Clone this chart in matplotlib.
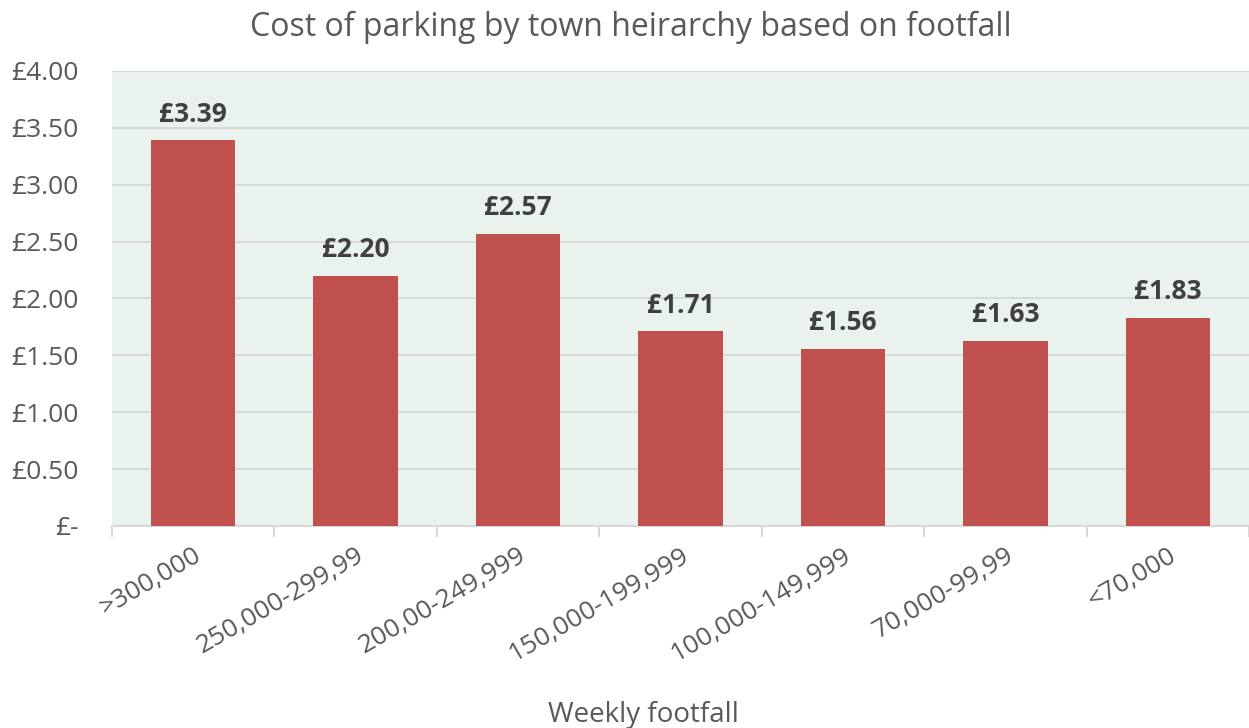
import matplotlib
matplotlib.use("Agg")
import matplotlib.pyplot as plt

# data
categories = [">300,000", "250,000-299,99", "200,00-249,999", "150,000-199,999",
              "100,000-149,999", "70,000-99,99", "<70,000"]
costs = [3.39, 2.20, 2.57, 1.71, 1.56, 1.63, 1.83]
yticks = [0, 0.5, 1.0, 1.5, 2.0, 2.5, 3.0, 3.5, 4.0]

plt.rcParams['font.family'] = ['Open Sans', 'DejaVu Sans']

fig = plt.figure(figsize=(12.49, 7.28), dpi=100)
ax = fig.add_axes([0.0897, 0.2775, 0.9103, 0.625])
ax.set_facecolor('#EAF2EE')

x = range(len(categories))
bars = ax.bar(x, costs, width=0.52, color='#C0504D', zorder=3)

for xi, v in zip(x, costs):
    ax.annotate(f"£{v:.2f}", (xi, v), xytext=(0, 9), textcoords='offset points',
                ha='center', va='bottom', fontsize=19, fontweight='bold', color='#404040')

ax.set_xlim(-0.5, len(categories) - 0.5)
ax.set_ylim(0, 4.0)
ax.set_yticks(yticks)
ax.set_yticklabels(["£-" if t == 0 else f"£{t:.2f}" for t in yticks])
ax.yaxis.grid(True, color='#D9D9D9', linewidth=1.5, zorder=0)

ax.set_xticks([i - 0.5 for i in range(len(categories) + 1)], minor=False)
ax.set_xticklabels([])
ax.set_xticks(list(x), minor=True)
ax.set_xticklabels(categories, minor=True, rotation=30, ha='right', rotation_mode='anchor',
                   fontsize=19, color='#595959')
ax.tick_params(axis='x', which='major', length=8, color='#D9D9D9', width=1.5)
ax.tick_params(axis='x', which='minor', length=0, pad=12)
ax.tick_params(axis='y', length=0, labelsize=19, labelcolor='#595959', pad=24)

for s in ['top', 'right', 'left']:
    ax.spines[s].set_visible(False)
ax.spines['bottom'].set_color('#D9D9D9')
ax.spines['bottom'].set_linewidth(1.5)

fig.text(0.505, 0.963, "Cost of parking by town heirarchy based on footfall",
         ha='center', va='center', fontsize=23, color='#595959')
fig.text(0.515, 0.018, "Weekly footfall", ha='center', va='center', fontsize=20, color='#595959')

fig.savefig("out.png", dpi=100)
